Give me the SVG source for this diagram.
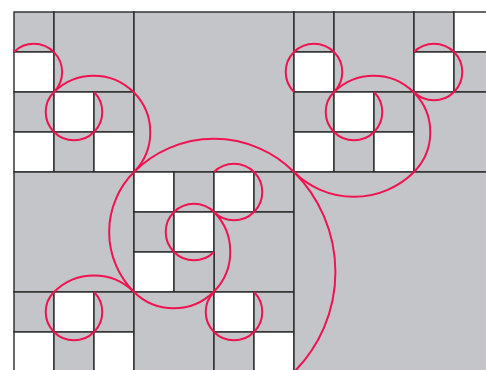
<svg xmlns="http://www.w3.org/2000/svg" width="486" height="370" viewBox="0 0 486 370">
<style>
.g{fill:#c4c5c9;stroke:#2a2a2a;stroke-width:1.4}
.w{fill:#ffffff;stroke:#2a2a2a;stroke-width:1.4}
.arc{fill:none;stroke:#ef1350;stroke-width:2}
</style>
<rect width="486" height="370" fill="#ffffff"/>
<g id="block-top-left">
<rect class="g" x="14" y="12" width="40" height="40"/>
<rect class="w" x="14" y="52" width="40" height="40"/>
<rect class="g" x="14" y="92" width="40" height="40"/>
<rect class="w" x="14" y="132" width="40" height="40"/>
<rect class="g" x="54" y="12" width="80" height="80"/>
<rect class="w" x="54" y="92" width="40" height="40"/>
<rect class="g" x="94" y="92" width="40" height="40"/>
<rect class="g" x="54" y="132" width="40" height="40"/>
<rect class="w" x="94" y="132" width="40" height="40"/>
</g>
<g id="block-top-middle">
<rect class="g" x="134" y="12" width="160" height="160"/>
</g>
<g id="block-top-right">
<rect class="g" x="294" y="12" width="40" height="40"/>
<rect class="w" x="294" y="52" width="40" height="40"/>
<rect class="g" x="294" y="92" width="40" height="40"/>
<rect class="w" x="294" y="132" width="40" height="40"/>
<rect class="g" x="334" y="12" width="80" height="80"/>
<rect class="w" x="334" y="92" width="40" height="40"/>
<rect class="g" x="374" y="92" width="40" height="40"/>
<rect class="g" x="334" y="132" width="40" height="40"/>
<rect class="w" x="374" y="132" width="40" height="40"/>
<rect class="g" x="414" y="12" width="40" height="40"/>
<rect class="w" x="414" y="52" width="40" height="40"/>
<rect class="w" x="454" y="12" width="40" height="40"/>
<rect class="g" x="454" y="52" width="40" height="40"/>
<rect class="g" x="414" y="92" width="80" height="80"/>
</g>
<g id="block-middle-left">
<rect class="g" x="14" y="172" width="120" height="120"/>
</g>
<g id="block-center">
<rect class="w" x="134" y="172" width="40" height="40"/>
<rect class="g" x="174" y="172" width="40" height="40"/>
<rect class="w" x="214" y="172" width="40" height="40"/>
<rect class="g" x="254" y="172" width="40" height="40"/>
<rect class="g" x="134" y="212" width="40" height="40"/>
<rect class="w" x="174" y="212" width="40" height="40"/>
<rect class="g" x="214" y="212" width="80" height="80"/>
<rect class="w" x="134" y="252" width="40" height="40"/>
<rect class="g" x="174" y="252" width="40" height="40"/>
</g>
<g id="block-bottom">
<rect class="g" x="14" y="292" width="40" height="40"/>
<rect class="w" x="54" y="292" width="40" height="40"/>
<rect class="g" x="94" y="292" width="40" height="40"/>
<rect class="w" x="14" y="332" width="40" height="40"/>
<rect class="g" x="54" y="332" width="40" height="40"/>
<rect class="w" x="94" y="332" width="40" height="40"/>
<rect class="g" x="134" y="292" width="80" height="80"/>
<rect class="w" x="214" y="292" width="40" height="40"/>
<rect class="g" x="254" y="292" width="40" height="40"/>
<rect class="g" x="214" y="332" width="40" height="40"/>
<rect class="w" x="254" y="332" width="40" height="40"/>
</g>
<g id="block-bottom-right">
<rect class="g" x="294" y="172" width="200" height="200"/>
</g>
<g id="connectors">
<path class="arc" d="M14,52 A28.285,28.285 0 0 1 54,92"/>
<path class="arc" d="M94,92 A28.285,28.285 0 1 1 54,92"/>
<path class="arc" d="M54,92 A56.57,56.57 0 0 1 134,172"/>
<path class="arc" d="M134,172 A113.14,113.14 0 0 1 294,172"/>
<path class="arc" d="M134,172 A84.853,84.853 0 0 0 134,292"/>
<path class="arc" d="M294,172 A141.422,141.422 0 0 1 294,372"/>
<path class="arc" d="M134,292 A56.57,56.57 0 0 0 214,212"/>
<path class="arc" d="M214,252 A28.285,28.285 0 1 1 214,212"/>
<path class="arc" d="M214,172 A28.285,28.285 0 1 1 214,212"/>
<path class="arc" d="M254,292 A28.285,28.285 0 1 1 214,292"/>
<path class="arc" d="M54,292 A56.57,56.57 0 0 1 134,292"/>
<path class="arc" d="M94,292 A28.285,28.285 0 1 1 54,292"/>
<path class="arc" d="M294,92 A28.285,28.285 0 1 1 334,92"/>
<path class="arc" d="M374,92 A28.285,28.285 0 1 1 334,92"/>
<path class="arc" d="M334,92 A56.57,56.57 0 0 1 414,172"/>
<path class="arc" d="M294,172 A84.853,84.853 0 0 0 414,172"/>
<path class="arc" d="M414,52 A28.285,28.285 0 1 1 414,92"/>
</g>
</svg>
